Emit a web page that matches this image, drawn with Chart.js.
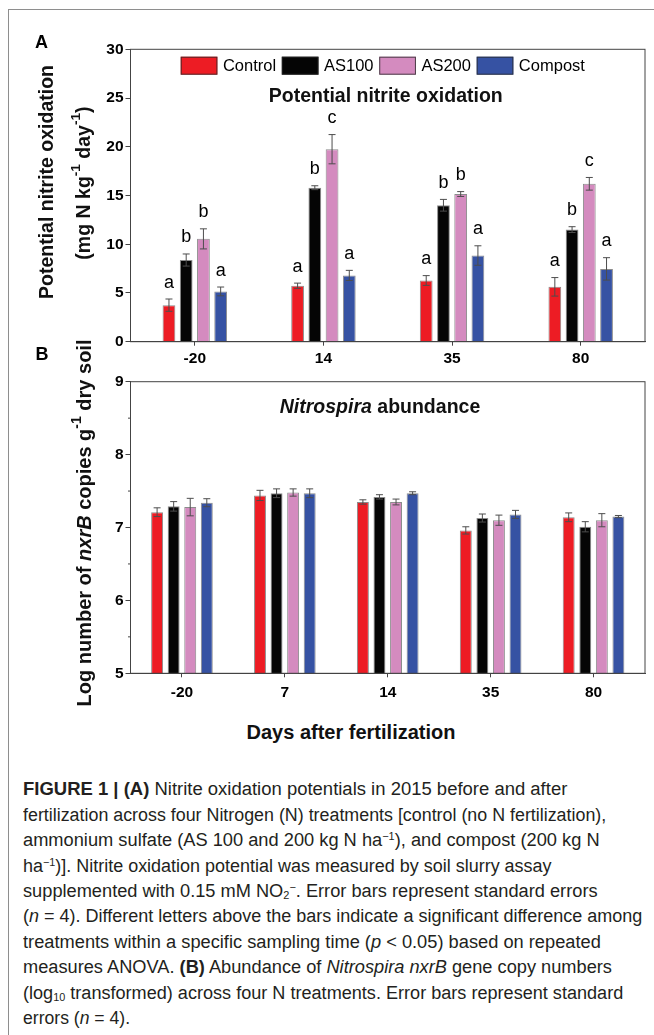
<!DOCTYPE html>
<html><head><meta charset="utf-8">
<script src="https://cdn.jsdelivr.net/npm/chart.js@4.4.1/dist/chart.umd.min.js"></script>
<style>
html,body{margin:0;padding:0;background:#fff;}
body{width:654px;height:1035px;position:relative;overflow:hidden;font-family:'Liberation Sans',Arial,Helvetica,sans-serif;color:#000;}
.frame{position:absolute;left:8px;top:9px;width:700px;height:1100px;border-left:1.3px solid #8e8e8e;border-top:1.3px solid #8e8e8e;}
canvas{position:absolute;left:0;}
#c1{top:0;}
#c2{top:365px;}
.panel{position:absolute;font-weight:bold;font-size:18px;line-height:20px;}
.ytitle{position:absolute;width:440px;height:22px;line-height:22px;text-align:center;font-weight:bold;white-space:nowrap;transform:rotate(-90deg);color:#111;}
.ytitle sup{font-size:0.7em;line-height:0;vertical-align:0.72em;}
.xtitle{position:absolute;left:151px;width:400px;top:720.7px;height:22px;line-height:22px;text-align:center;font-weight:bold;font-size:20px;color:#111;}
.cap{position:absolute;left:23px;font-size:18px;line-height:25.4px;height:25.4px;white-space:nowrap;color:#231f20;transform-origin:0 50%;}
.cap sup{font-size:0.6em;line-height:0;vertical-align:0.6em;}
.cap sub{font-size:0.6em;line-height:0;vertical-align:-0.2em;}
</style>
</head><body>
<div class="frame"></div>
<canvas id="c1" width="654" height="372"></canvas>
<canvas id="c2" width="654" height="345"></canvas>

<div class="panel" style="left:35px;top:32px;">A</div>
<div class="panel" style="left:35.5px;top:343.5px;">B</div>

<div class="ytitle" style="font-size:19.5px;left:-173.7px;top:170.5px;">Potential nitrite oxidation</div>
<div class="ytitle" style="font-size:19.5px;left:-136.7px;top:171.5px;">(mg N kg<sup>-1</sup> day<sup>-1</sup>)</div>
<div class="ytitle" style="font-size:20px;left:-136.4px;top:512px;">Log number of <i>nxrB</i> copies g<sup>-1</sup> dry soil</div>
<div class="xtitle">Days after fertilization</div>

<div class="cap" data-w="544" style="top:777.3px;"><b>FIGURE 1 | (A)</b> Nitrite oxidation potentials in 2015 before and after</div>
<div class="cap" data-w="583" style="top:802.7px;">fertilization across four Nitrogen (N) treatments [control (no N fertilization),</div>
<div class="cap" data-w="577" style="top:828.1px;">ammonium sulfate (AS 100 and 200 kg N ha<sup>−1</sup>), and compost (200 kg N</div>
<div class="cap" data-w="529" style="top:853.5px;">ha<sup>−1</sup>)]. Nitrite oxidation potential was measured by soil slurry assay</div>
<div class="cap" data-w="575" style="top:878.9px;">supplemented with 0.15 mM NO<sub>2</sub><sup>−</sup>. Error bars represent standard errors</div>
<div class="cap" data-w="619" style="top:904.3px;">(<i>n</i> = 4). Different letters above the bars indicate a significant difference among</div>
<div class="cap" data-w="578" style="top:929.7px;">treatments within a specific sampling time (<i>p</i> &lt; 0.05) based on repeated</div>
<div class="cap" data-w="589" style="top:955.1px;">measures ANOVA. <b>(B)</b> Abundance of <i>Nitrospira nxrB</i> gene copy numbers</div>
<div class="cap" data-w="600" style="top:980.5px;">(log<sub>10</sub> transformed) across four N treatments. Error bars represent standard</div>
<div class="cap" data-w="107.5" style="top:1005.9px;">errors (<i>n</i> = 4).</div>

<script>
// ---------- data ----------
const seriesNames = ['Control', 'AS100', 'AS200', 'Compost'];
const seriesColors = ['#ED1C24', '#050505', '#D48BBF', '#3652A3'];

// Panel A: potential nitrite oxidation
const daysA = ['-20', '14', '35', '80'];
const controlA = [3.75, 5.74, 6.28, 5.63];
const controlErrA = [0.63, 0.27, 0.5, 0.95];
const as100A = [8.38, 15.8, 14.0, 11.5];
const as100ErrA = [0.62, 0.2, 0.6, 0.3];
const as200A = [10.55, 19.75, 15.15, 16.2];
const as200ErrA = [1.03, 1.5, 0.25, 0.65];
const compostA = [5.16, 6.8, 8.84, 7.47];
const compostErrA = [0.45, 0.52, 1.0, 1.15];
const lettersControlA = ['a', 'a', 'a', 'a'];
const lettersAS100A = ['b', 'b', 'b', 'b'];
const lettersAS200A = ['b', 'c', 'b', 'c'];
const lettersCompostA = ['a', 'a', 'a', 'a'];
const yTicksA = [0, 5, 10, 15, 20, 25, 30];

// Panel B: Nitrospira abundance
const daysB = ['-20', '7', '14', '35', '80'];
const controlB = [7.21, 7.44, 7.35, 6.96, 7.14];
const controlErrB = [0.06, 0.07, 0.03, 0.05, 0.06];
const as100B = [7.29, 7.47, 7.42, 7.13, 7.01];
const as100ErrB = [0.065, 0.06, 0.03, 0.055, 0.07];
const as200B = [7.28, 7.48, 7.35, 7.10, 7.10];
const as200ErrB = [0.12, 0.05, 0.04, 0.07, 0.09];
const compostB = [7.34, 7.47, 7.47, 7.18, 7.15];
const compostErrB = [0.055, 0.06, 0.02, 0.055, 0.015];
const yTicksB = [5, 6, 7, 8, 9];
const yMinorTicksB = [5.5, 6.5, 7.5, 8.5];

// ---------- helpers ----------
const FONT = "'Liberation Sans', Arial, Helvetica, sans-serif";
Chart.defaults.font.family = FONT;
Chart.defaults.color = '#000';

const figPlugin = {
  id: 'fig',
  afterDatasetsDraw(chart, args, o) {
    const ctx = chart.ctx, ys = chart.scales.y;
    ctx.save();
    chart.data.datasets.forEach((ds, i) => {
      const meta = chart.getDatasetMeta(i);
      meta.data.forEach((bar, j) => {
        const v = ds.data[j], e = ds.errors[j];
        const yt = ys.getPixelForValue(v + e), yb = ys.getPixelForValue(v - e);
        ctx.strokeStyle = '#4d4d4d'; ctx.lineWidth = 1;
        ctx.beginPath();
        ctx.moveTo(bar.x, yt); ctx.lineTo(bar.x, yb);
        ctx.moveTo(bar.x - 3.5, yt); ctx.lineTo(bar.x + 3.5, yt);
        ctx.moveTo(bar.x - 3.5, yb); ctx.lineTo(bar.x + 3.5, yb);
        ctx.stroke();
        if (ds.letters) {
          ctx.fillStyle = '#000';
          ctx.font = '18px ' + FONT;
          ctx.textAlign = 'center'; ctx.textBaseline = 'alphabetic';
          ctx.fillText(ds.letters[j], bar.x, yt - 11.5);
        }
      });
    });
    ctx.restore();
  },
  afterDraw(chart, args, o) {
    const ctx = chart.ctx, ca = chart.chartArea, ys = chart.scales.y;
    ctx.save();
    // plot frame
    ctx.strokeStyle = '#444'; ctx.lineWidth = 1;
    ctx.strokeRect(ca.left, ca.top, ca.right - ca.left, ca.bottom - ca.top);
    // minor ticks
    (o.minor || []).forEach(v => {
      const y = ys.getPixelForValue(v);
      ctx.beginPath(); ctx.moveTo(ca.left - 2.5, y); ctx.lineTo(ca.left, y); ctx.stroke();
    });
    // title
    if (o.title) {
      const parts = o.title.parts;
      let widths = parts.map(p => { ctx.font = (p.italic ? 'italic ' : '') + 'bold 19.5px ' + FONT; return ctx.measureText(p.text).width; });
      const total = widths.reduce((a, b) => a + b, 0);
      let x = (ca.left + ca.right) / 2 + o.title.dx - total / 2;
      const y = ca.top + o.title.dy;
      ctx.fillStyle = '#111'; ctx.textAlign = 'left'; ctx.textBaseline = 'middle';
      parts.forEach((p, k) => {
        ctx.font = (p.italic ? 'italic ' : '') + 'bold 19.5px ' + FONT;
        ctx.fillText(p.text, x, y); x += widths[k];
      });
    }
    // legend
    if (o.legend) {
      let x = ca.left + 50.2;
      const top = ca.top + 7.4, bw = 36.7, bh = 18;
      ctx.font = '16.5px ' + FONT; ctx.textBaseline = 'middle'; ctx.textAlign = 'left';
      chart.data.datasets.forEach(ds => {
        ctx.fillStyle = ds.backgroundColor;
        ctx.fillRect(x, top, bw, bh);
        ctx.strokeStyle = 'rgba(40,40,40,0.8)'; ctx.lineWidth = 1;
        ctx.strokeRect(x + 0.5, top + 0.5, bw - 1, bh - 1);
        x += bw + 5.5;
        ctx.fillStyle = '#000';
        ctx.fillText(ds.label, x, top + bh / 2 + 0.5);
        x += ctx.measureText(ds.label).width + 5.7;
      });
    }
    ctx.restore();
  }
};

function makeDatasets(values, errs, letters) {
  return seriesNames.map((name, i) => ({
    label: name,
    data: values[i],
    errors: errs[i],
    letters: letters ? letters[i] : null,
    backgroundColor: seriesColors[i],
    borderColor: 'rgba(45,45,45,0.55)',
    borderWidth: 1
  }));
}

function axisCommon(ticksArr, min, max, yWidth) {
  return {
    min: min, max: max,
    afterBuildTicks: s => { s.ticks = ticksArr.map(v => ({ value: v })); },
    afterFit: s => { s.width = yWidth; },
    ticks: { font: { size: 15.5, weight: 'bold' }, color: '#000', padding: 2 },
    grid: { drawOnChartArea: false, tickLength: 5, tickColor: '#444', tickWidth: 1 },
    border: { color: '#444', width: 1 }
  };
}

// ---------- Chart A ----------
new Chart(document.getElementById('c1'), {
  type: 'bar',
  data: {
    labels: daysA,
    datasets: makeDatasets(
      [controlA, as100A, as200A, compostA],
      [controlErrA, as100ErrA, as200ErrA, compostErrA],
      [lettersControlA, lettersAS100A, lettersAS200A, lettersCompostA])
  },
  options: {
    responsive: false, animation: false,
    layout: { padding: { left: 0, right: 9, top: 49.3, bottom: 0 } },
    datasets: { bar: { categoryPercentage: 0.536, barPercentage: 0.74 } },
    scales: {
      x: {
        afterFit: s => { s.height = 30.3; },
        ticks: { font: { size: 15.5, weight: 'bold' }, color: '#000', padding: 4 },
        grid: { offset: false, drawOnChartArea: false, tickLength: 4, tickColor: '#444' },
        border: { color: '#444', width: 1 }
      },
      y: axisCommon(yTicksA, 0, 30, 130.5)
    },
    plugins: {
      legend: { display: false }, tooltip: { enabled: false },
      fig: { legend: true, title: { parts: [{ text: 'Potential nitrite oxidation' }], dx: -2, dy: 47.4 } }
    }
  },
  plugins: [figPlugin]
});

// ---------- Chart B ----------
new Chart(document.getElementById('c2'), {
  type: 'bar',
  data: {
    labels: daysB,
    datasets: makeDatasets(
      [controlB, as100B, as200B, compostB],
      [controlErrB, as100ErrB, as200ErrB, compostErrB],
      null)
  },
  options: {
    responsive: false, animation: false,
    layout: { padding: { left: 0, right: 9, top: 16.7, bottom: 0 } },
    datasets: { bar: { categoryPercentage: 0.644, barPercentage: 0.72 } },
    scales: {
      x: {
        afterFit: s => { s.height = 36.7; },
        ticks: { font: { size: 15.5, weight: 'bold' }, color: '#000', padding: 6 },
        grid: { offset: false, drawOnChartArea: false, tickLength: 4, tickColor: '#444' },
        border: { color: '#444', width: 1 }
      },
      y: axisCommon(yTicksB, 5, 9, 130.5)
    },
    plugins: {
      legend: { display: false }, tooltip: { enabled: false },
      fig: { minor: yMinorTicksB, title: { parts: [{ text: 'Nitrospira', italic: true }, { text: ' abundance' }], dx: -7.75, dy: 26.3 } }
    }
  },
  plugins: [figPlugin]
});

// caption line fitting
document.querySelectorAll('.cap').forEach(el => {
  const natural = el.scrollWidth;
  const target = parseFloat(el.dataset.w);
  el.style.transform = 'scaleX(' + (target / natural) + ')';
});
</script>
</body></html>
